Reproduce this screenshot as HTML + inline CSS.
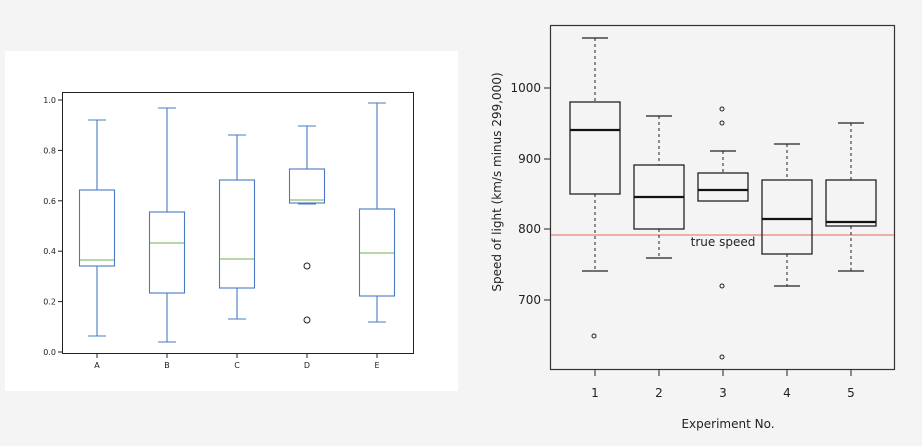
<!DOCTYPE html>
<html><head><style>
body{margin:0;background:#f4f4f4;}
svg{display:block;font-family:"DejaVu Sans","Liberation Sans",sans-serif;}
</style></head><body>
<svg width="922" height="446" viewBox="0 0 922 446">
<rect width="922" height="446" fill="#f4f4f4"/>
<rect x="5" y="51" width="453" height="340" fill="#fff"/>
<g stroke="#000" stroke-width="1" fill="none">
<rect x="62.5" y="92.5" width="351" height="261" stroke="#222"/>
</g>
<g font-size="8" fill="#222" text-anchor="end">
<g stroke="#222"><line x1="58" x2="62" y1="352" y2="352"/><line x1="58" x2="62" y1="301.6" y2="301.6"/><line x1="58" x2="62" y1="251.2" y2="251.2"/><line x1="58" x2="62" y1="200.8" y2="200.8"/><line x1="58" x2="62" y1="150.4" y2="150.4"/><line x1="58" x2="62" y1="100" y2="100"/></g>
<text x="56" y="355">0.0</text><text x="56" y="304.6">0.2</text><text x="56" y="254.2">0.4</text><text x="56" y="203.8">0.6</text><text x="56" y="153.4">0.8</text><text x="56" y="103">1.0</text>
</g>
<g font-size="8" fill="#222" text-anchor="middle">
<g stroke="#222"><line x1="97" x2="97" y1="354" y2="358"/><line x1="167" x2="167" y1="354" y2="358"/><line x1="237" x2="237" y1="354" y2="358"/><line x1="307" x2="307" y1="354" y2="358"/><line x1="377" x2="377" y1="354" y2="358"/></g>
<text x="97" y="368">A</text><text x="167" y="368">B</text><text x="237" y="368">C</text><text x="307" y="368">D</text><text x="377" y="368">E</text>
</g>
<g stroke="#4a78c2" stroke-width="1.1" fill="none">
<!-- A -->
<rect x="79.5" y="190" width="35" height="76"/><line x1="97" x2="97" y1="120" y2="190"/><line x1="97" x2="97" y1="266" y2="336"/><line x1="88" x2="106" y1="120" y2="120"/><line x1="88" x2="106" y1="336" y2="336"/>
<!-- B -->
<rect x="149.5" y="212" width="35" height="81"/><line x1="167" x2="167" y1="108" y2="212"/><line x1="167" x2="167" y1="293" y2="342"/><line x1="158" x2="176" y1="108" y2="108"/><line x1="158" x2="176" y1="342" y2="342"/>
<!-- C -->
<rect x="219.5" y="180" width="35" height="108"/><line x1="237" x2="237" y1="135" y2="180"/><line x1="237" x2="237" y1="288" y2="319"/><line x1="228" x2="246" y1="135" y2="135"/><line x1="228" x2="246" y1="319" y2="319"/>
<!-- D -->
<rect x="289.5" y="169" width="35" height="34"/><line x1="307" x2="307" y1="126" y2="169"/><line x1="298" x2="316" y1="126" y2="126"/><line x1="298" x2="316" y1="204" y2="204"/>
<!-- E -->
<rect x="359.5" y="209" width="35" height="87"/><line x1="377" x2="377" y1="103" y2="209"/><line x1="377" x2="377" y1="296" y2="322"/><line x1="368" x2="386" y1="103" y2="103"/><line x1="368" x2="386" y1="322" y2="322"/>
</g>
<g stroke="#6cb24a" stroke-width="1.1">
<line x1="80" x2="114" y1="260" y2="260"/><line x1="150" x2="184" y1="243" y2="243"/><line x1="220" x2="254" y1="259" y2="259"/><line x1="290" x2="324" y1="200" y2="200"/><line x1="360" x2="394" y1="253" y2="253"/>
</g>
<g stroke="#222" fill="none"><circle cx="307" cy="266" r="3"/><circle cx="307" cy="320" r="3"/></g>

<!-- right chart -->
<rect x="550.5" y="25.5" width="344" height="344" fill="none" stroke="#333" stroke-width="1.2"/>
<line x1="551" x2="894" y1="235" y2="235" stroke="#e8837a" stroke-width="1.3"/>
<text x="723" y="246" font-size="12" text-anchor="middle" fill="#222">true speed</text>
<g stroke="#222" stroke-width="1"><line x1="544" x2="550" y1="88" y2="88"/><line x1="544" x2="550" y1="159" y2="159"/><line x1="544" x2="550" y1="229" y2="229"/><line x1="544" x2="550" y1="300" y2="300"/>
<line x1="595" x2="595" y1="370" y2="376"/><line x1="659" x2="659" y1="370" y2="376"/><line x1="723" x2="723" y1="370" y2="376"/><line x1="787" x2="787" y1="370" y2="376"/><line x1="851" x2="851" y1="370" y2="376"/></g>
<g font-size="12" fill="#222" text-anchor="end"><text x="541" y="92">1000</text><text x="541" y="163">900</text><text x="541" y="233">800</text><text x="541" y="304">700</text></g>
<g font-size="12" fill="#222" text-anchor="middle"><text x="595" y="397">1</text><text x="659" y="397">2</text><text x="723" y="397">3</text><text x="787" y="397">4</text><text x="851" y="397">5</text>
<text x="728" y="428" font-size="12">Experiment No.</text>
<text transform="translate(501,182) rotate(-90)" font-size="12">Speed of light (km/s minus 299,000)</text></g>
<g stroke="#222" stroke-width="1" stroke-dasharray="3,3">
<line x1="595" x2="595" y1="38" y2="102"/><line x1="595" x2="595" y1="194" y2="271"/>
<line x1="659" x2="659" y1="116" y2="165"/><line x1="659" x2="659" y1="229" y2="258"/>
<line x1="723" x2="723" y1="151" y2="173"/>
<line x1="787" x2="787" y1="144" y2="180"/><line x1="787" x2="787" y1="254" y2="286"/>
<line x1="851" x2="851" y1="123" y2="180"/><line x1="851" x2="851" y1="226" y2="271"/>
</g>
<g stroke="#222" stroke-width="1.3" fill="none">
<line x1="582" x2="608" y1="38" y2="38"/><line x1="582" x2="608" y1="271" y2="271"/>
<line x1="646" x2="672" y1="116" y2="116"/><line x1="646" x2="672" y1="258" y2="258"/>
<line x1="710" x2="736" y1="151" y2="151"/>
<line x1="774" x2="800" y1="144" y2="144"/><line x1="774" x2="800" y1="286" y2="286"/>
<line x1="838" x2="864" y1="123" y2="123"/><line x1="838" x2="864" y1="271" y2="271"/>
<rect x="570" y="102" width="50" height="92"/>
<rect x="634" y="165" width="50" height="64"/>
<rect x="698" y="173" width="50" height="28"/>
<rect x="762" y="180" width="50" height="74"/>
<rect x="826" y="180" width="50" height="46"/>
</g>
<g stroke="#111" stroke-width="2.2">
<line x1="570" x2="620" y1="130" y2="130"/><line x1="634" x2="684" y1="197" y2="197"/><line x1="698" x2="748" y1="190" y2="190"/><line x1="762" x2="812" y1="219" y2="219"/><line x1="826" x2="876" y1="222" y2="222"/>
</g>
<g stroke="#222" fill="none" stroke-width="1"><circle cx="594" cy="336" r="2"/><circle cx="722" cy="109" r="2"/><circle cx="722" cy="123" r="2"/><circle cx="722" cy="286" r="2"/><circle cx="722" cy="357" r="2"/></g>
</svg>
</body></html>
